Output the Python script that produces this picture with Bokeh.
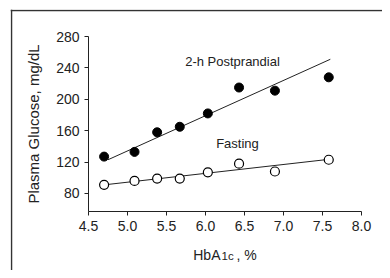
from bokeh.plotting import figure
from bokeh.models import Label, FixedTicker, NumeralTickFormatter, Range1d
from bokeh.embed import file_html
from bokeh.resources import INLINE

FONT = "Liberation Sans"
INK = "#222222"

# Data
hba1c = [4.70, 5.09, 5.38, 5.67, 6.03, 6.43, 6.89, 7.58]
postprandial = [127, 133, 158, 165, 182, 215, 211, 228]
fasting = [91, 96, 99, 99, 107, 118, 108, 123]

# Regression lines (endpoints as drawn)
pp_fit_x = [4.75, 7.60]
pp_fit_y = [123, 251]
fa_fit_x = [4.70, 7.58]
fa_fit_y = [91, 123.5]

x_ticks = [4.5, 5.0, 5.5, 6.0, 6.5, 7.0, 7.5, 8.0]
y_ticks = [80, 120, 160, 200, 240, 280]
x_axis_span = (4.5, 8.0)
y_axis_span = (57, 280)

# The plot frame fills the page; the axes sit inside it at fixed locations
p = figure(width=382, height=270, output_backend="svg", toolbar_location=None,
           x_range=Range1d(3.5, 8.269), y_range=Range1d(-18.1, 314.4),
           min_border_left=10, min_border_right=0, min_border_top=9, min_border_bottom=0)
p.xgrid.visible = False
p.ygrid.visible = False
p.outline_line_color = None
p.background_fill_color = "white"
p.border_fill_color = "white"

p.xaxis.fixed_location = y_axis_span[0]
p.yaxis.fixed_location = x_axis_span[0]
p.xaxis.bounds = x_axis_span
p.yaxis.bounds = y_axis_span

for ax in (p.xaxis[0], p.yaxis[0]):
    ax.axis_line_color = INK
    ax.axis_line_width = 1
    ax.major_tick_line_color = INK
    ax.major_tick_out = 4
    ax.major_tick_in = 0
    ax.minor_tick_line_color = None
    ax.major_label_text_font = FONT
    ax.major_label_text_font_size = "14px"
    ax.major_label_text_color = INK
    ax.axis_label_text_font = FONT
    ax.axis_label_text_font_style = "normal"
    ax.axis_label_text_color = INK

p.xaxis.ticker = FixedTicker(ticks=x_ticks)
p.yaxis.ticker = FixedTicker(ticks=y_ticks)
p.xaxis.formatter = NumeralTickFormatter(format="0.0")
p.yaxis.axis_label = "Plasma Glucose, mg/dL"
p.yaxis.axis_label_text_font_size = "15px"
p.yaxis.axis_label_standoff = 11
p.xaxis.major_label_standoff = 5
p.yaxis.major_label_standoff = 5

# Outer frame of the figure panel (left and top edges), drawn as span glyphs
p.vspan(x=[3.513], line_color="#333333", line_width=1.5)
p.hspan(y=[313.0], line_color="#333333", line_width=1.5)

p.line(pp_fit_x, pp_fit_y, line_color=INK, line_width=1)
p.line(fa_fit_x, fa_fit_y, line_color=INK, line_width=1)
p.scatter(hba1c, postprandial, size=9, fill_color="black", line_color="black")
p.scatter(hba1c, fasting, size=9, fill_color="white", line_color="black", line_width=1.2)

p.add_layout(Label(x=6.346, y=248.2, text="2-h Postprandial", text_font=FONT, text_font_size="13px",
                   text_align="center", text_baseline="middle", text_color=INK))
p.add_layout(Label(x=6.41, y=143.7, text="Fasting", text_font=FONT, text_font_size="13px",
                   text_align="center", text_baseline="middle", text_color=INK))

# X axis title with subscript
p.add_layout(Label(x=6.192, y=2.0, text="HbA", text_font=FONT, text_font_size="14px",
                   text_align="right", text_baseline="alphabetic", text_color=INK))
p.add_layout(Label(x=6.205, y=1.0, text="1c", text_font=FONT, text_font_size="11.5px",
                   text_align="left", text_baseline="alphabetic", text_color=INK))
p.add_layout(Label(x=6.397, y=2.0, text=", %", text_font=FONT, text_font_size="14px",
                   text_align="left", text_baseline="alphabetic", text_color=INK))

open("out.html", "w").write(file_html(p, INLINE))
